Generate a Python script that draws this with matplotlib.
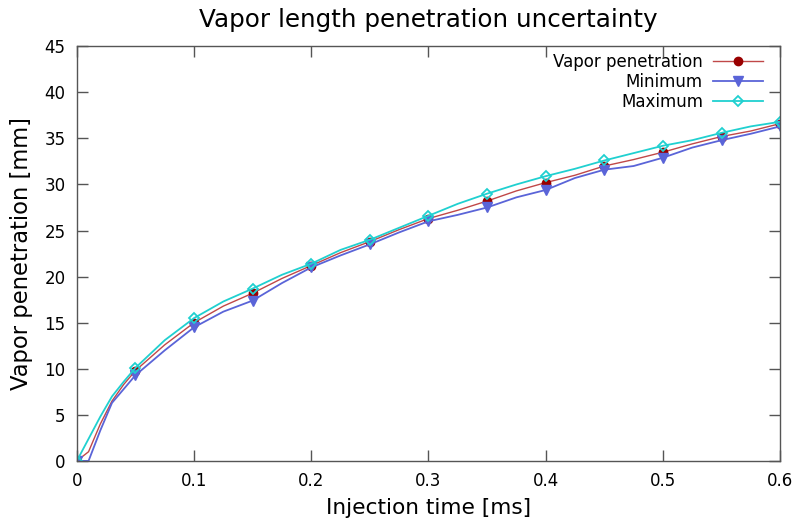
import numpy as np
import matplotlib.pyplot as plt

# injection time [ms]
time = [0.0, 0.01, 0.02, 0.03, 0.04, 0.05, 0.075, 0.1, 0.125, 0.15, 0.175,
        0.2, 0.225, 0.25, 0.275, 0.3, 0.325, 0.35, 0.375, 0.4, 0.425, 0.45,
        0.475, 0.5, 0.525, 0.55, 0.575, 0.6]

vapor = [0.0, 1.0, 4.0, 6.5, 8.3, 9.8, 12.6, 15.0, 16.8, 18.2, 19.8,
         21.2, 22.6, 23.8, 25.1, 26.3, 27.2, 28.2, 29.3, 30.2, 31.0, 32.0,
         32.7, 33.5, 34.4, 35.2, 35.8, 36.6]
minimum = [0.0, 0.0, 3.3, 6.3, 7.8, 9.3, 12.0, 14.5, 16.2, 17.4, 19.3,
           21.0, 22.3, 23.5, 24.8, 26.0, 26.7, 27.5, 28.6, 29.4, 30.7, 31.6,
           32.0, 32.9, 34.0, 34.8, 35.5, 36.3]
maximum = [0.0, 2.4, 4.8, 7.0, 8.6, 10.1, 13.1, 15.5, 17.3, 18.7, 20.2,
           21.4, 22.9, 24.0, 25.3, 26.6, 27.9, 29.0, 30.0, 30.9, 31.7, 32.6,
           33.4, 34.2, 34.8, 35.6, 36.3, 36.8]

xticks = [0, 0.1, 0.2, 0.3, 0.4, 0.5, 0.6]
xticklabels = ["0", "0.1", "0.2", "0.3", "0.4", "0.5", "0.6"]
yticks = list(range(0, 50, 5))

# markers only every 0.05 ms
marks = [i for i, t in enumerate(time) if abs(round(t / 0.05) * 0.05 - t) < 1e-9]

fig = plt.figure(figsize=(7.92, 5.25), dpi=100)
ax = fig.add_axes([0.097, 0.122, 0.888, 0.79])

ax.plot(time, vapor, color="#c04848", linewidth=1.0, marker="o",
        markersize=6, markerfacecolor="#990000", markeredgecolor="#990000",
        markevery=marks, label="Vapor penetration")
ax.plot(time, minimum, color="#5a64d8", linewidth=1.3, marker="v",
        markersize=7, markerfacecolor="#5a64d8", markeredgecolor="#5a64d8",
        markevery=marks, label="Minimum")
ax.plot(time, maximum, color="#20d0d0", linewidth=1.3, marker="D",
        markersize=5, markerfacecolor="none", markeredgecolor="#20d0d0",
        markeredgewidth=1.3, markevery=marks, label="Maximum")

ax.set_xlim(0, 0.6)
ax.set_ylim(0, 45)
ax.set_xticks(xticks)
ax.set_xticklabels(xticklabels)
ax.set_yticks(yticks)
ax.tick_params(direction="in", length=8, width=1, color="#555555",
               labelsize=12, top=True, right=True, pad=8)
for s in ax.spines.values():
    s.set_color("#555555")
    s.set_linewidth(1.0)

ax.set_title("Vapor length penetration uncertainty", fontsize=17.7, pad=14)
ax.set_xlabel("Injection time [ms]", fontsize=15.6, labelpad=6)
ax.set_ylabel("Vapor penetration [mm]", fontsize=16.3, labelpad=8)

ax.legend(loc="upper right", bbox_to_anchor=(0.985, 1.0), frameon=False,
          markerfirst=False, fontsize=12, handlelength=3.0,
          labelspacing=0.12, borderaxespad=0.3, handletextpad=0.6,
          borderpad=0.1)

fig.savefig("out.png", dpi=100)
